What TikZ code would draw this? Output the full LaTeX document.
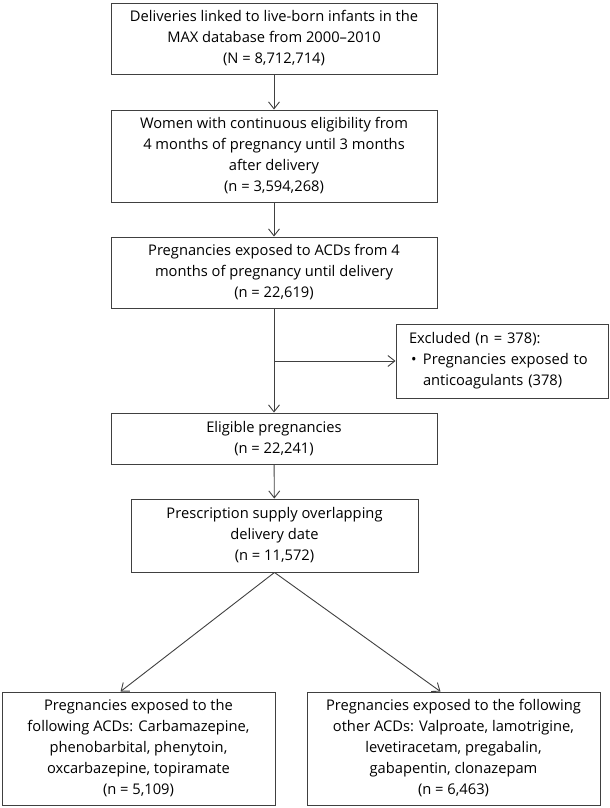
\documentclass[tikz,border=0pt]{standalone}
\usepackage{fontspec}
\setmainfont{Open Sans}
\usetikzlibrary{positioning, arrows.meta}

\begin{document}
\begin{tikzpicture}[
    x=1bp, y=-1bp,
    box/.style={draw=black!75, line width=0.9bp, align=center, inner sep=0pt,
        font=\fontsize{14.7bp}{21bp}\selectfont},
    flow/.style={draw=black!75, line width=0.9bp, -{Straight Barb[length=7bp, width=11bp]}}
]

\useasboundingbox (0,0) rectangle (610,808);

% --- 1. Main column ---
\node[box, minimum width=326bp, minimum height=71bp] (deliv) at (274,38.5)
    {Deliveries linked to live-born infants in the\\MAX database from 2000--2010\\(N = 8,712,714)};

\node[box, minimum width=326bp, minimum height=92bp] (women) at (274,156)
    {Women with continuous eligibility from\\4 months of pregnancy until 3 months\\after delivery\\(n = 3,594,268)};

\node[box, minimum width=326bp, minimum height=71bp] (acd) at (274,272.5)
    {Pregnancies exposed to ACDs from 4\\months of pregnancy until delivery\\(n = 22,619)};

\node[box, minimum width=326bp, minimum height=51bp] (elig) at (274,438.5)
    {Eligible pregnancies\\(n = 22,241)};

\node[box, minimum width=287bp, minimum height=73bp] (presc) at (274.5,535.5)
    {Prescription supply overlapping\\delivery date\\(n = 11,572)};

% --- 2. Exclusion box ---
\node[box, align=left, text width=186bp, inner xsep=13bp, minimum height=74bp] (excl) at (502,361)
    {Excluded (n = 378):\\
     \makebox[14bp][l]{\hspace{2bp}\textbullet}Pregnancies exposed to\\
     \hspace{14bp}anticoagulants (378)};

% --- 3. Split by ACD group ---
\node[box, minimum width=273bp, minimum height=113bp] (grpA) at (138.5,748.5)
    {Pregnancies exposed to the\\following ACDs: Carbamazepine,\\phenobarbital, phenytoin,\\oxcarbazepine, topiramate\\(n = 5,109)};

\node[box, minimum width=293bp, minimum height=113bp] (grpB) at (453.5,748.5)
    {Pregnancies exposed to the following\\other ACDs: Valproate, lamotrigine,\\levetiracetam, pregabalin,\\gabapentin, clonazepam\\(n = 6,463)};

% --- 4. Arrows ---
\draw[flow] (deliv) -- (women);
\draw[flow] (women) -- (acd);
\draw[flow] (acd) -- (elig);
\draw[flow] (elig) -- (presc);

\coordinate (split) at (acd.south |- excl.west);
\draw[flow] (split) -- (excl.west);

\draw[flow] (presc.south) -- ([xshift=-18bp]grpA.north);
\draw[flow] (presc.south) -- ([xshift=-13bp]grpB.north);

\end{tikzpicture}
\end{document}
